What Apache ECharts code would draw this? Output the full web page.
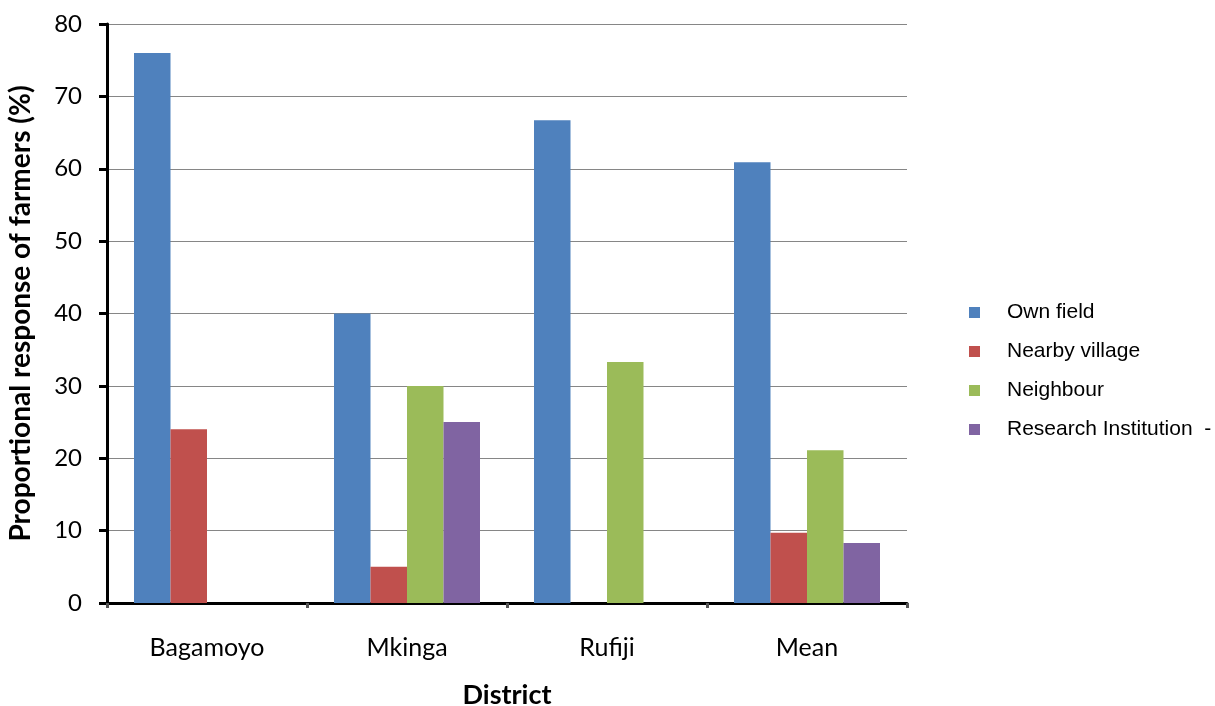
<!DOCTYPE html>
<html>
<head>
<meta charset="utf-8">
<script src="https://cdn.jsdelivr.net/npm/echarts@6/dist/echarts.min.js"></script>
<style>
  html, body { margin: 0; padding: 0; background: #fff; }
  #chart { width: 1215px; height: 706px; }
</style>
</head>
<body>
<div id="chart"></div>
<script>
// Sources of seed reported by farmers, per district (%)
const districts = ['Bagamoyo', 'Mkinga', 'Rufiji', 'Mean'];
const ownField = [76, 40, 66.7, 60.9];
const nearbyVillage = [24, 5, 0, 9.7];
const neighbour = [0, 30, 33.3, 21.1];
const researchInstitution = [0, 25, 0, 8.3];
const seriesNames = ['Own field', 'Nearby village', 'Neighbour', 'Research Institution  -'];
const yTicks = [0, 10, 20, 30, 40, 50, 60, 70, 80];

const colors = ['#4F81BD', '#C0504D', '#9BBB59', '#8064A2'];
const seriesData = [ownField, nearbyVillage, neighbour, researchInstitution];

const chart = echarts.init(document.getElementById('chart'));
chart.setOption({
  animation: false,
  color: colors,
  grid: { left: 107, right: 308, top: 24, bottom: 103, outerBoundsMode: 'none', containLabel: false },
  legend: {
    orient: 'vertical',
    left: 969,
    top: 302,
    padding: 0,
    itemWidth: 11,
    itemHeight: 11,
    itemGap: 18,
    icon: 'rect',
    textStyle: { fontFamily: 'Liberation Sans', fontSize: 21, lineHeight: 21, color: '#000', padding: [0, 0, 0, 22] },
    data: seriesNames
  },
  xAxis: {
    type: 'category',
    data: districts,
    name: 'District',
    nameLocation: 'middle',
    nameGap: 79,
    nameTextStyle: { fontFamily: 'Lato', fontWeight: 'bold', fontSize: 27, color: '#000' },
    axisLine: { lineStyle: { color: '#000', width: 3 } },
    axisTick: { show: true, length: 5, lineStyle: { color: '#555', width: 3 } },
    axisLabel: { fontFamily: 'Lato', fontSize: 25, color: '#000', margin: 32 }
  },
  yAxis: {
    type: 'value',
    min: yTicks[0],
    max: yTicks[yTicks.length - 1],
    interval: 10,
    name: 'Proportional response of farmers (%)',
    nameLocation: 'middle',
    nameGap: 72,
    nameTextStyle: { fontFamily: 'Lato', fontWeight: 'bold', fontSize: 28, color: '#000' },
    axisLine: { show: true, lineStyle: { color: '#000', width: 3 } },
    axisTick: { show: true, length: 8, lineStyle: { color: '#000', width: 3 } },
    axisLabel: { fontFamily: 'Lato', fontSize: 24, color: '#000', margin: 25 },
    splitLine: { show: true, lineStyle: { color: '#868686', width: 1 } }
  },
  series: seriesData.map((d, i) => ({
    name: seriesNames[i],
    type: 'bar',
    data: d,
    barGap: '0%',
    barCategoryGap: '27%',
    itemStyle: { color: colors[i] }
  }))
});
</script>
</body>
</html>
